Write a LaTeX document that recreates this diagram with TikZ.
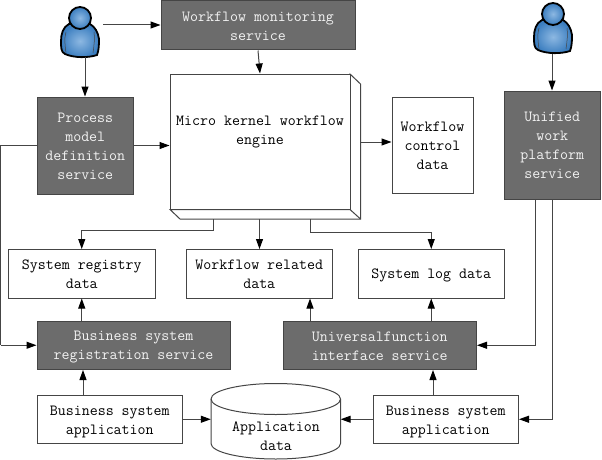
\documentclass[tikz,border=0pt]{standalone}
\usepackage{fontspec}
\usetikzlibrary{arrows.meta,calc}
\definecolor{edge}{HTML}{454545}
\definecolor{darkfill}{HTML}{6C6C6C}
\definecolor{lighttext}{HTML}{F2F2F2}
\definecolor{blueout}{HTML}{3A7DBF}
\definecolor{bluein}{HTML}{8DB8E2}
\newcommand{\ts}{\rule{0pt}{14pt}}
\newcommand{\bs}{\rule[-3.5pt]{0pt}{1pt}}
\tikzset{
  labelled/.style={inner sep=0pt,align=center,
    font=\ttfamily\fontsize{15.5}{19}\selectfont},
  base/.style={labelled,draw=edge,line width=1pt},
  lightbox/.style={base,fill=white,text=black},
  darkbox/.style={base,fill=darkfill,text=lighttext},
  plain/.style={labelled,text=black},
  link/.style={draw=edge,line width=1pt},
  flow/.style={link,-{Triangle[length=10pt,width=7pt,color=black]}},
  pbody/.style={draw=black,line width=1.8pt,inner color=bluein,outer color=blueout},
}
\newcommand{\person}[2]{%
  \begin{scope}[shift={(#1,#2)}]
    \draw[pbody] (-11,0) .. controls (-17,3) and (-19,10) .. (-19,17)
      .. controls (-19,24) and (-19,28) .. (-15,30)
      .. controls (-6,34) and (8,34) .. (17,31)
      .. controls (19,26) and (19,20) .. (19,15)
      .. controls (18,8) and (15,3) .. (10,0) -- cycle;
    \draw[edge,line width=.5pt] (-14,8) .. controls (-16,14) and (-15,22) .. (-14,29);
    \draw[edge,line width=.5pt] (14,8) .. controls (15,14) and (14,22) .. (13,29);
    \draw[pbody] (0,-6) circle (11);
  \end{scope}}
\begin{document}
\begin{tikzpicture}[x=1pt,y=-1pt]
\useasboundingbox (0,0) rectangle (602,460);
\person{80}{24}
\person{553}{20}
\coordinate (userA) at (85,57);
\coordinate (userAr) at (103,25);
\coordinate (userB) at (552,54);
% kernel
\coordinate (kA) at (350,74);
\coordinate (kB) at (360.5,84);
\coordinate (kC) at (360.5,219);
\coordinate (kD) at (180,219);
\coordinate (kE) at (170,209.5);
\coordinate (kF) at (350,209.5);
\draw[link,fill=white] (kA) -- (kB) -- (kC) -- (kD) -- (kE) -- (kF) -- cycle;
\draw[link] (kF) -- (kC);
\node[lightbox,minimum width=180pt,minimum height=135.5pt] (kernel) at (260,141.75) {};
\node[plain] (kerneltext) at (260,130.25) {\ts Micro kernel workflow\\engine\bs};
\coordinate (kout) at (360.5,142);
\coordinate (koutA) at (213,219);
\coordinate (koutB) at (259.5,219);
\coordinate (koutC) at (310,219);
% boxes
\node[darkbox,minimum width=194pt,minimum height=49pt] (monitor) at (258,25.5) {\ts Workflow monitoring\\service\bs};
\node[darkbox,minimum width=96.5pt,minimum height=97pt] (proc) at (85.25,145.5) {\ts Process\\model\\definition\\service\bs};
\node[darkbox,minimum width=96.5pt,minimum height=108pt] (unified) at (552.25,145) {\ts Unified\\work\\platform\\service\bs};
\node[lightbox,minimum width=81pt,minimum height=96pt] (control) at (432.5,145) {\ts Workflow\\control\\data\bs};
\node[lightbox,minimum width=146.5pt,minimum height=48.5pt] (registry) at (81.75,273.75) {\ts System registry\\data\bs};
\node[lightbox,minimum width=145.5pt,minimum height=48.5pt] (related) at (259.25,273.75) {\ts Workflow related\\data\bs};
\node[lightbox,minimum width=145.5pt,minimum height=48.5pt] (log) at (431.25,273.75) {\ts System log data\bs};
\node[darkbox,minimum width=193pt,minimum height=48.5pt] (bsr) at (133.5,345.25) {\ts Business system\\registration service\bs};
\node[darkbox,minimum width=193.5pt,minimum height=48.5pt] (uni) at (379.75,345.25) {\ts Universalfunction\\interface service\bs};
\node[lightbox,minimum width=145.5pt,minimum height=48.5pt] (appL) at (109.75,419.25) {\ts Business system\\application\bs};
\node[lightbox,minimum width=145.5pt,minimum height=48.5pt] (appR) at (445.75,419.25) {\ts Business system\\application\bs};
% cylinder
\node[inner sep=0pt,minimum width=129.5pt,minimum height=76pt] (store) at (275.75,421.5) {};
\draw[link,fill=white] (211,399) arc[start angle=180,end angle=0,x radius=64.75,y radius=-15.5]
  -- (340.5,443.5) arc[start angle=0,end angle=180,x radius=64.75,y radius=15.5] -- cycle;
\draw[link] (211,399) arc[start angle=180,end angle=360,x radius=64.75,y radius=-15.5];
\node[plain] (storetext) at (276,436) {\ts Application\\data\bs};
% connectors
\draw[flow] (userAr) -- (monitor.west |- userAr);
\draw[flow] (userA) -- (proc.north -| userA);
\draw[flow] (monitor.south) -- (kernel.north);
\draw[flow] (proc.east) -- (kernel.west |- proc.east);
\draw[flow] (kout) -- (control.west |- kout);
\draw[flow] (userB) -- (unified.north -| userB);
\draw[link] (proc.west) -- (0.5,145.5) -- (0.5,345.25);
\draw[flow] (0.5,345.25) -- (bsr.west);
\draw[flow] (koutA) |- (81.75,230.5) -- (registry.north);
\draw[flow] (koutB) -- (koutB |- related.north);
\draw[flow] (koutC) |- (431.25,232.5) -- (log.north);
\draw[flow] (bsr.north -| registry.north) -- (registry.south);
\draw[flow] (appL.north -| 83,0) -- (bsr.south -| 83,0);
\draw[flow] (uni.north -| koutC) -- (related.south -| koutC);
\draw[flow] (uni.north -| log.north) -- (log.south);
\draw[flow] (appR.north -| 433,0) -- (uni.south -| 433,0);
\draw[flow] (535.5,199) -- (535.5,345.25) -- (uni.east);
\draw[flow] (552,199) -- (552,419.25) -- (appR.east);
\draw[flow] (appL.east) -- (store.west |- appL.east);
\draw[flow] (appR.west) -- (store.east |- appR.west);
\end{tikzpicture}
\end{document}
